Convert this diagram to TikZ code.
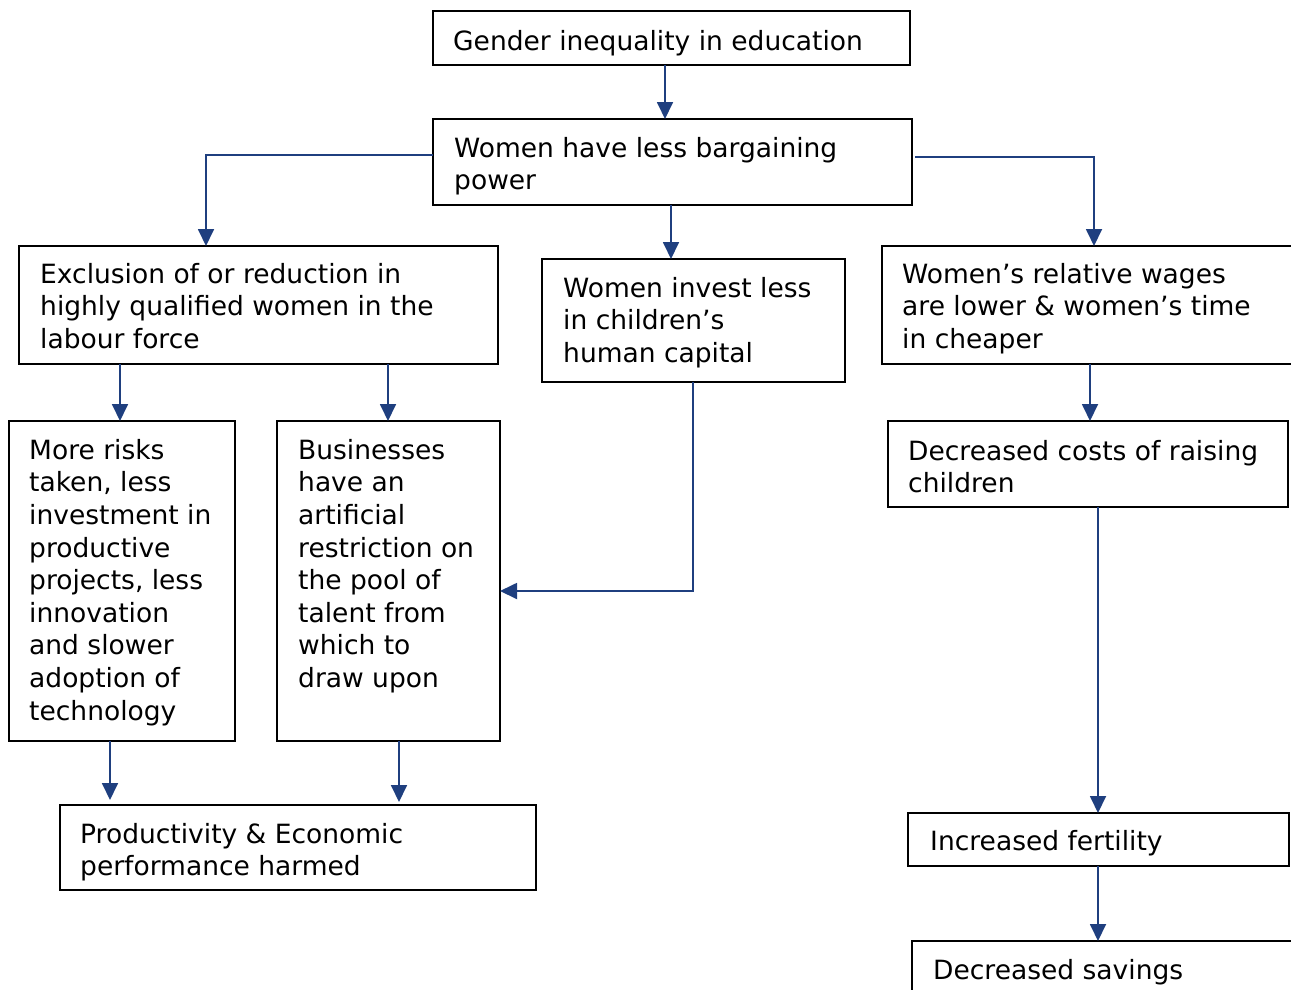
\documentclass[tikz,border=0pt]{standalone}
\usepackage{fontspec}
\setmainfont{DejaVu Sans}
\usetikzlibrary{arrows.meta}
\definecolor{arrowblue}{RGB}{31,63,127}
\begin{document}
\begin{tikzpicture}[x=1pt,y=-1pt,
  box/.style={draw=black, line width=1.8pt, anchor=north west, inner sep=0pt, outer sep=0pt},
  txt/.style={anchor=north west, inner sep=0pt, align=left,
    font=\fontsize{26.5}{32.6}\selectfont},
  arr/.style={draw=arrowblue, line width=1.8pt,
    -{Triangle[width=16pt,length=17pt]}}]
\useasboundingbox (0,0) rectangle (1291,989);
\clip (0,0) rectangle (1291,989);

% boxes
\node[box, minimum width=477, minimum height=54]  (g) at (433,11)  {};
\node[box, minimum width=479, minimum height=86]  (b) at (433,119) {};
\node[box, minimum width=479, minimum height=118] (e) at (19,246)  {};
\node[box, minimum width=303, minimum height=123] (i) at (542,259) {};
\node[box, minimum width=420, minimum height=118] (w) at (882,246) {};
\node[box, minimum width=226, minimum height=320] (r) at (9,421)   {};
\node[box, minimum width=223, minimum height=320] (z) at (277,421) {};
\node[box, minimum width=476, minimum height=85]  (p) at (60,805)  {};
\node[box, minimum width=400, minimum height=86]  (c) at (888,421) {};
\node[box, minimum width=381, minimum height=53]  (f) at (908,813) {};
\node[box, minimum width=400, minimum height=80]  (s) at (912,941) {};

% texts
\node[txt] (tg) at (453,30)  {Gender inequality in education};
\node[txt] (tb) at (454,137) {Women have less bargaining\\power};
\node[txt] (te) at (40,263)  {Exclusion of or reduction in\\highly qualified women in the\\labour force};
\node[txt] (ti) at (563,277) {Women invest less\\in children’s\\human capital};
\node[txt] (tw) at (902,263) {Women’s relative wages\\are lower \& women’s time\\in cheaper};
\node[txt] (tr) at (29,439)  {More risks\\taken, less\\investment in\\productive\\projects, less\\innovation\\and slower\\adoption of\\technology};
\node[txt] (tz) at (298,439) {Businesses\\have an\\artificial\\restriction on\\the pool of\\talent from\\which to\\draw upon};
\node[txt] (tp) at (80,823)  {Productivity \& Economic\\performance harmed};
\node[txt] (tc) at (908,440) {Decreased costs of raising\\children};
\node[txt] (tf) at (930,830) {Increased fertility};
\node[txt] (ts) at (933,959) {Decreased savings};

% connector guide positions
\coordinate (x1) at (665,0);
\coordinate (lA) at (206,155);
\coordinate (mA) at (671,0);
\coordinate (rA) at (1094,157);
\coordinate (x2) at (120,0);
\coordinate (x3) at (388,0);
\coordinate (iA) at (693,591);
\coordinate (x4) at (1090,0);
\coordinate (x5) at (1098,0);
\coordinate (x6) at (110,0);
\coordinate (x7) at (399,0);

% connectors
\draw[arr] (g.south -| x1) -- (b.north -| x1);
\draw[arr] (b.west |- lA) -| (e.north -| lA);
\draw[arr] (b.south -| mA) -- (i.north -| mA);
\draw[arr] ([xshift=3pt]b.east |- rA) -| (w.north -| rA);
\draw[arr] (e.south -| x2) -- (r.north -| x2);
\draw[arr] (e.south -| x3) -- (z.north -| x3);
\draw[arr] (i.south -| iA) |- (z.east |- iA);
\draw[arr] (w.south -| x4) -- (c.north -| x4);
\draw[arr] (c.south -| x5) -- (f.north -| x5);
\draw[arr] (f.south -| x5) -- (s.north -| x5);
\draw[arr] (r.south -| x6) -- ([yshift=5pt]p.north -| x6);
\draw[arr] (z.south -| x7) -- ([yshift=3pt]p.north -| x7);
\end{tikzpicture}
\end{document}
